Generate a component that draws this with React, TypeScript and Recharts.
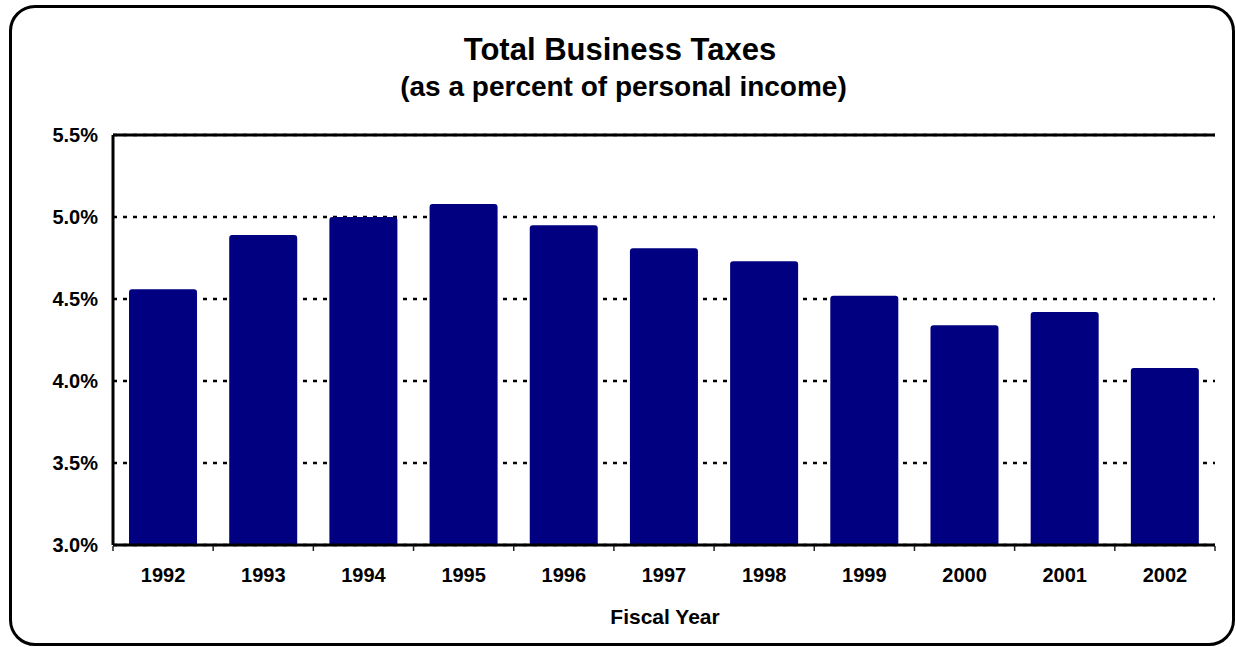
import React from 'react';
import { BarChart, Bar, XAxis, YAxis, CartesianGrid, ReferenceLine } from 'recharts';

const years = ['1992', '1993', '1994', '1995', '1996', '1997', '1998', '1999', '2000', '2001', '2002'];
const taxShare = [4.56, 4.89, 5.0, 5.08, 4.95, 4.81, 4.73, 4.52, 4.34, 4.42, 4.08];
const yTicks = [3.0, 3.5, 4.0, 4.5, 5.0, 5.5];

const chartData = years.map((year, i) => ({ year, value: taxShare[i] }));

const FONT = '"Liberation Sans", Arial, sans-serif';
const WIDTH = 1236;
const HEIGHT = 647;
const PLOT_LEFT = 113;
const PLOT_RIGHT = 1215;
const bandWidth = (PLOT_RIGHT - PLOT_LEFT) / years.length;

function YearTick(props: any) {
  const { x, y, payload, index } = props;
  const left = x - bandWidth / 2;
  return (
    <g>
      <line x1={left} x2={left} y1={y + 1} y2={y + 6} stroke="#222" strokeWidth={1.5} />
      {index === years.length - 1 && (
        <line x1={left + bandWidth} x2={left + bandWidth} y1={y + 1} y2={y + 6} stroke="#222" strokeWidth={1.5} />
      )}
      <text x={x} y={y + 37} textAnchor="middle" fontFamily={FONT} fontWeight="bold" fontSize={20} fill="#000">
        {payload.value}
      </text>
    </g>
  );
}

export default function App() {
  return (
    <div style={{ position: 'absolute', left: 0, top: 0, width: WIDTH, height: HEIGHT, background: '#fff', fontFamily: FONT }}>
      <div
        style={{
          position: 'absolute',
          left: 9,
          top: 5,
          width: 1226,
          height: 641,
          border: '3px solid #000',
          borderRadius: 26,
          boxSizing: 'border-box',
        }}
      />
      <div style={{ position: 'absolute', left: 0, width: WIDTH, top: 32, textAlign: 'center', fontWeight: 'bold', fontSize: 31, lineHeight: '35px', paddingLeft: 4, boxSizing: 'border-box' }}>
        Total Business Taxes
      </div>
      <div style={{ position: 'absolute', left: 0, width: WIDTH, top: 71, textAlign: 'center', fontWeight: 'bold', fontSize: 28, lineHeight: '31px', paddingLeft: 11, boxSizing: 'border-box' }}>
        (as a percent of personal income)
      </div>
      <div style={{ position: 'absolute', left: 0, width: WIDTH, top: 605, textAlign: 'center', fontWeight: 'bold', fontSize: 21, lineHeight: '24px', paddingLeft: 94, boxSizing: 'border-box' }}>
        Fiscal Year
      </div>
      <div style={{ position: 'absolute', left: 0, top: 0 }}>
        <BarChart
          width={WIDTH}
          height={HEIGHT}
          data={chartData}
          margin={{ top: 135, right: WIDTH - PLOT_RIGHT, bottom: 62, left: 13 }}
          barCategoryGap="16%"
        >
          <CartesianGrid vertical={false} stroke="#000" strokeWidth={2.5} strokeDasharray="4 6" />
          <XAxis
            dataKey="year"
            height={40}
            axisLine={{ stroke: '#000', strokeWidth: 3 }}
            tickLine={false}
            tickSize={0}
            tickMargin={0}
            tick={<YearTick />}
            interval={0}
          />
          <YAxis
            width={100}
            domain={[3, 5.5]}
            ticks={yTicks}
            allowDataOverflow
            axisLine={{ stroke: '#000', strokeWidth: 3 }}
            tickLine={false}
            tickSize={0}
            tickMargin={15}
            tickFormatter={(v: number) => `${v.toFixed(1)}%`}
            tick={{ fontFamily: FONT, fontWeight: 'bold', fontSize: 20, fill: '#000' }}
          />
          <YAxis
            yAxisId="right"
            orientation="right"
            width={0}
            domain={[3, 5.5]}
            ticks={yTicks}
            axisLine={{ stroke: '#000', strokeWidth: 3 }}
            tick={false}
            tickLine={false}
          />
          <ReferenceLine y={5.5} stroke="#000" strokeWidth={3} />
          <Bar dataKey="value" fill="#000080" radius={[3, 3, 0, 0]} isAnimationActive={false} />
        </BarChart>
      </div>
    </div>
  );
}
